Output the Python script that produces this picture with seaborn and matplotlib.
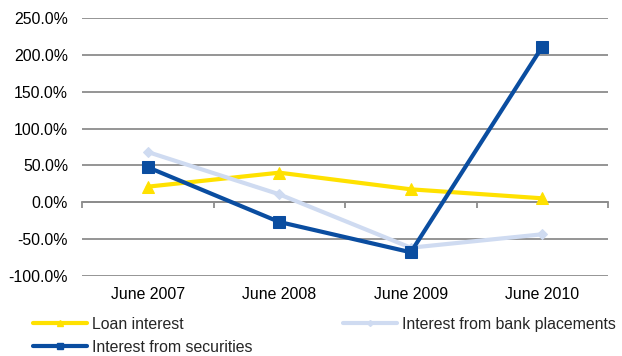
import matplotlib
matplotlib.use("Agg")
import matplotlib.pyplot as plt
import seaborn as sns
import pandas as pd
from matplotlib.ticker import FuncFormatter, FixedLocator
from matplotlib.lines import Line2D

periods = ["June 2007", "June 2008", "June 2009", "June 2010"]
loan_interest = [21.2, 40.2, 17.6, 5.4]
bank_placements = [68.2, 10.8, -61.6, -43.4]
securities = [47.5, -26.7, -67.8, 211.0]

series_names = ["Loan interest", "Interest from bank placements", "Interest from securities"]
colors = {"Loan interest": "#FFE100",
          "Interest from bank placements": "#CFDBF1",
          "Interest from securities": "#0A4DA0"}
markers = {"Loan interest": "^",
           "Interest from bank placements": "D",
           "Interest from securities": "s"}
msizes = {"Loan interest": 8,
          "Interest from bank placements": 5,
          "Interest from securities": 8}

df = pd.DataFrame({
    "period": periods * 3,
    "value": loan_interest + bank_placements + securities,
    "series": [s for s in series_names for _ in periods],
})
df["pos"] = df["period"].map({p: i for i, p in enumerate(periods)})

sns.set_theme(style="white")
plt.rcParams["font.family"] = ["Liberation Sans", "DejaVu Sans"]
FS = 11.4

fig = plt.figure(figsize=(6.22, 3.56), dpi=100)
ax = fig.add_axes([0.132, 0.2247, 0.8455, 0.7247])

for name in ["Loan interest", "Interest from bank placements", "Interest from securities"]:
    sub = df[df["series"] == name]
    sns.lineplot(data=sub, x="pos", y="value", ax=ax, color=colors[name],
                 marker=markers[name], markersize=msizes[name],
                 markeredgecolor=colors[name], linewidth=3, legend=False)

ax.set_xlim(-0.5, len(periods) - 0.5)
ax.set_ylim(-100, 250)
ax.set_yticks(range(-100, 251, 50))
ax.yaxis.set_major_formatter(FuncFormatter(lambda v, _: f"{v:.1f}%"))
ax.set_xticks(range(len(periods)))
ax.set_xticklabels(periods)
ax.set_xlabel("")
ax.set_ylabel("")
ax.tick_params(axis="both", length=0, labelsize=FS, colors="#000000")
ax.tick_params(axis="x", pad=8)
ax.tick_params(axis="y", pad=10)
ax.grid(axis="y", color="#8C8C8C", linewidth=1.3)
ax.grid(axis="x", visible=False)
for sp in ax.spines.values():
    sp.set_visible(False)

# category axis line at zero with boundary tick marks
ymin, ymax = ax.get_ylim()
zero_frac = (0 - ymin) / (ymax - ymin)
sec = ax.secondary_xaxis(zero_frac)
sec.spines["bottom"].set_color("#8C8C8C")
sec.spines["bottom"].set_linewidth(1.3)
sec.xaxis.set_major_locator(FixedLocator([i - 0.5 for i in range(len(periods) + 1)]))
sec.tick_params(axis="x", length=4, width=1.3, color="#8C8C8C", labelbottom=False, direction="out")

handles = [
    Line2D([], [], color=colors["Loan interest"], lw=3, marker="^", markersize=5),
    Line2D([], [], color=colors["Interest from securities"], lw=3, marker="s", markersize=5),
    Line2D([], [], color=colors["Interest from bank placements"], lw=3, marker="D", markersize=3),
]
labels = ["Loan interest", "Interest from securities", "Interest from bank placements"]
fig.legend(handles, labels, ncol=2, loc="upper left", bbox_to_anchor=(0.053, 0.11),
           frameon=False, fontsize=FS, handlelength=3.4, handletextpad=0.3,
           columnspacing=5.75, labelspacing=0.5, borderaxespad=0, borderpad=0)

fig.savefig("out.png", dpi=100)
